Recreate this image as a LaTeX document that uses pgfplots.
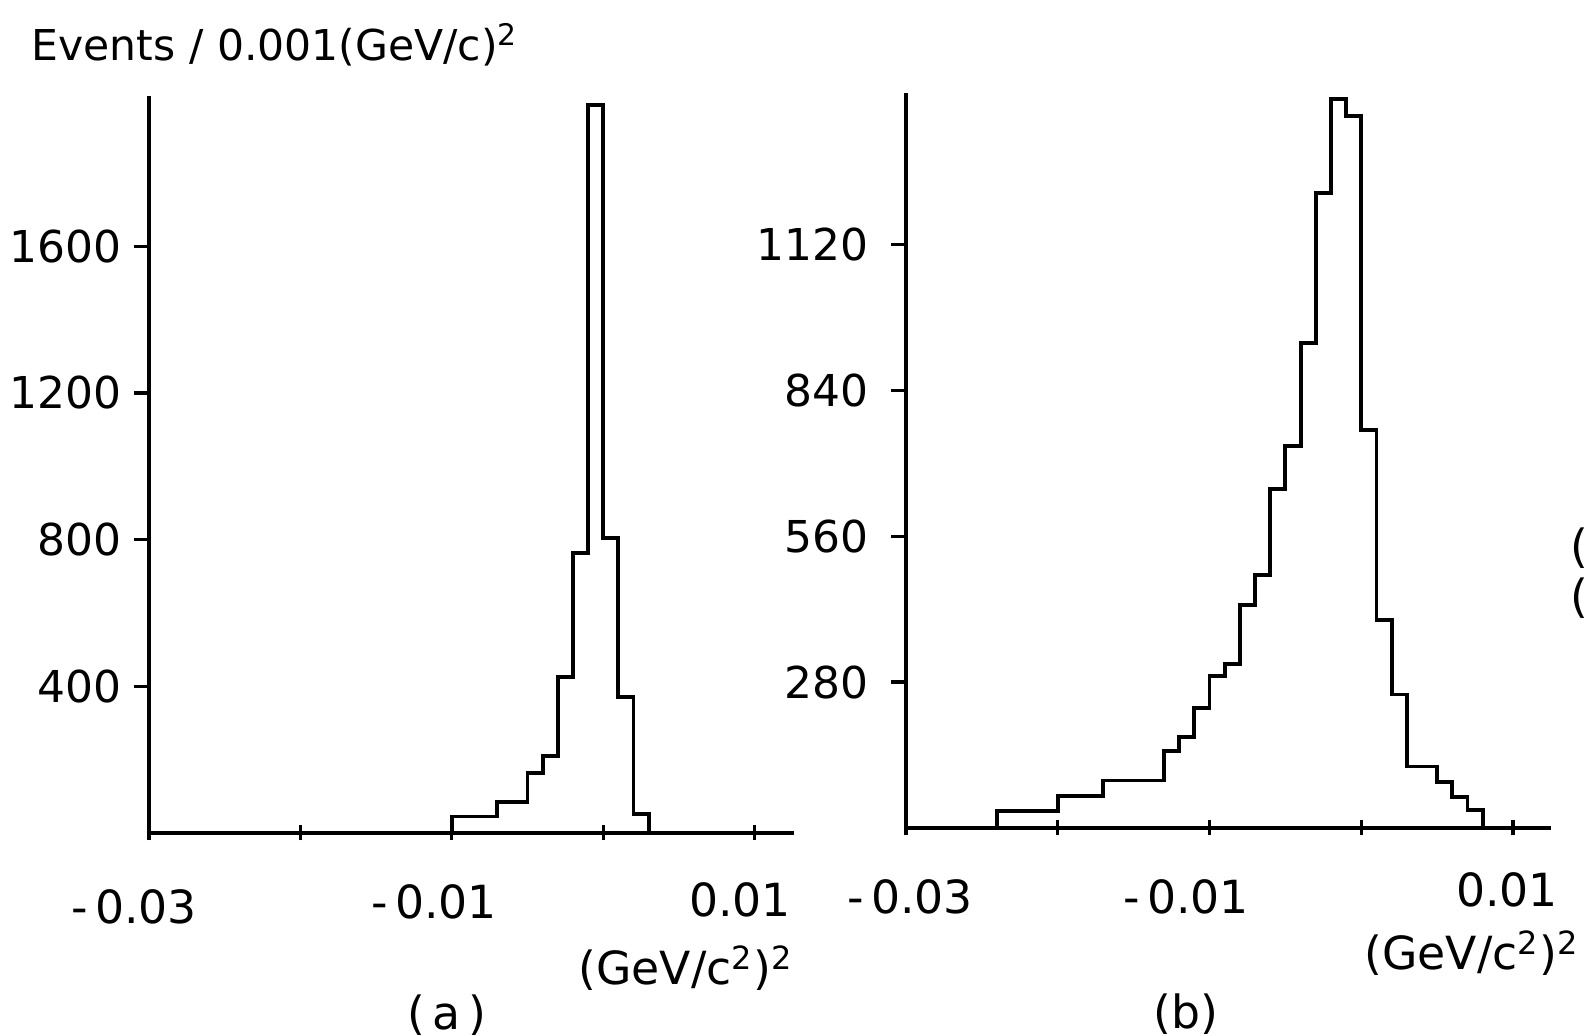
\documentclass[border=0pt]{standalone}
\usepackage{pgfplots}
\pgfplotsset{compat=1.18}
\usepackage{fontspec}
\setmainfont{DejaVu Sans}
\begin{document}
\fontsize{12}{14}\selectfont
\begin{tikzpicture}
\path[use as bounding box] (0,0) rectangle (15.9,10.36);
\pgfplotsset{hist/.style={
  scale only axis,
  axis x line*=bottom, axis y line*=left,
  axis line style={line width=0.9pt,-},
  xmin=-0.03, ymin=0,
  scaled x ticks=false, scaled y ticks=false,
  xtick={-0.03,-0.02,-0.01,0,0.01}, xticklabels={},
  xtick align=center, ytick align=outside,
  major tick length=0.15cm,
  tick style={line width=0.9pt, black},
  clip=false,
}}
% ---------------- panel (a)
\begin{axis}[hist, at={(1.49cm,2.03cm)}, anchor=south west,
  width=6.45cm, height=7.37cm, xmax=0.0126, ymax=2010,
  yticklabel style={font=\fontsize{12.5}{14}\selectfont, xshift=0.02cm},
  ytick={400,800,1200,1600}, yticklabels={400,800,1200,1600}]
\addplot[const plot mark right, line width=1.1pt] coordinates {
(-0.010,0) (-0.007,45) (-0.005,85) (-0.004,164) (-0.003,209)
(-0.002,425) (-0.001,764) (0,1985) (0.001,804) (0.002,371)
(0.003,51) (0.003,0)};
\end{axis}
% ---------------- panel (b)
\begin{axis}[hist, at={(9.06cm,2.08cm)}, anchor=south west,
  width=6.45cm, height=7.35cm, xmax=0.0125, ymax=1410,
  yticklabel style={font=\fontsize{12.5}{14}\selectfont, xshift=-0.08cm},
  ytick={280,560,840,1120}, yticklabels={280,560,840,1120}]
\addplot[const plot mark right, line width=1.1pt] coordinates {
(-0.024,0) (-0.020,32) (-0.017,61) (-0.013,91) (-0.012,147)
(-0.011,174) (-0.010,230) (-0.009,292) (-0.008,314) (-0.007,427)
(-0.006,486) (-0.005,650) (-0.004,733) (-0.003,931) (-0.002,1218)
(-0.001,1398) (0,1366) (0.001,764) (0.002,399) (0.003,256)
(0.005,118) (0.006,88) (0.007,59) (0.008,34) (0.008,0)};
\end{axis}
% ---------------- texts
\node[anchor=base west, inner sep=0pt, font=\fontsize{12.1}{14}\selectfont] at (0.31,9.75) {Events / 0.001(GeV/c)\textsuperscript{2}};
\begin{scope}[every node/.style={font=\fontsize{13}{15}\selectfont}]
\node at (1.34,1.29) {-\,0.03};
\node at (4.34,1.34) {-\,0.01};
\node at (7.40,1.36) {0.01};
\node at (9.10,1.39) {-\,0.03};
\node at (11.86,1.39) {-\,0.01};
\node at (15.07,1.46) {0.01};
\node at (6.86,0.68) {(GeV/c\textsuperscript{2})\textsuperscript{2}};
\node at (14.72,0.83) {(GeV/c\textsuperscript{2})\textsuperscript{2}};
\node at (4.47,0.21) {(\,a\,)};
\node at (11.86,0.22) {(b)};
\node[anchor=west, inner sep=0pt] at (15.70,4.88) {(};
\node[anchor=west, inner sep=0pt] at (15.70,4.38) {(};
\end{scope}
\end{tikzpicture}
\end{document}
